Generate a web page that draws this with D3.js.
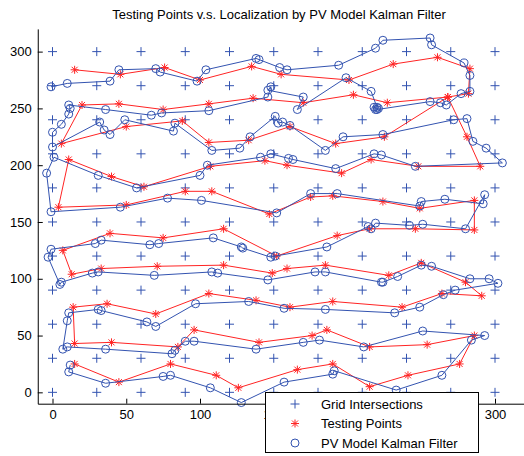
<!DOCTYPE html>
<html>
<head>
<meta charset="utf-8">
<script src="https://cdn.jsdelivr.net/npm/d3@7"></script>
<style>
  body { margin: 0; background: #fff; }
  text { font-family: "Liberation Sans", Arial, sans-serif; }
</style>
</head>
<body>
<svg id="chart" width="524" height="456"></svg>
<script>
// grid of reference positions (every 30 units)
const gridXs = [0, 30, 60, 90, 120, 150, 180, 210, 240, 270, 300];
const gridYs = [0, 30, 60, 90, 120, 150, 180, 210, 240, 270, 300];

const xTicks = [0, 50, 100, 150, 200, 250, 300];
const yTicks = [0, 50, 100, 150, 200, 250, 300];

// testing points, in walking order
const testPoints = [
    [15,25],[45,9],[80,25],[111,15],[126,4],[166,20],[190,25],[215,5],[241,15],[276,25],
    [286,50],[254,42],[215,40],[186,55],[176,50],[140,44],[96,55],[85,40],[40,44],[15,43],
    [14,75],[37,78],[70,69],[106,87],[138,81],[161,75],[190,80],[237,75],[264,87],[291,85],
    [280,97],[250,114],[228,103],[185,112],[159,109],[149,105],[116,112],[71,111],[33,109],[13,104],
    [7,125],[39,140],[75,136],[116,144],[152,120],[193,138],[215,144],[246,144],[286,143],
    [286,169],[249,162],[224,168],[190,173],[175,172],[147,157],[108,177],[90,177],[50,165],[4,163],
    [11,205],[40,190],[62,181],[107,199],[144,204],[159,200],[196,193],[216,205],[248,199],[290,199],
    [281,225],[268,260],
    [225,225],[192,219],[161,234],[133,222],[106,220],[88,239],[50,234],[6,219],
    [20,253],[45,254],[75,249],[106,254],[136,259],[170,255],[204,262],[227,255],[268,260],[282,263],
    [283,285],[261,295],[231,289],[201,275],[155,280],[135,287],[100,275],[76,286],[46,280],[15,284]
];

// PV model Kalman filter estimates
const kalmanPoints = [
    [12,24],[11,18],[36,8],[75,14],[80,15],[107,4],[128,-9],[157,9],[190,16],[191,19],[233,2],[264,15],[284,46],
    [293,50],[251,54],[211,40],[181,46],[170,44],[138,38],[96,45],[90,45],[83,37],[81,34],[36,38],[10,40],[7,38],
    [10,63],[11,70],[31,73],[33,72],[64,62],[70,58],[97,78],[133,80],[157,74],[185,73],[232,70],[249,75],[265,86],[273,90],[302,96],
    [296,100],[283,100],[257,111],[250,112],[234,102],[224,97],[223,97],[185,106],[178,106],[146,99],[112,105],[108,106],[69,103],[31,106],[27,105],[6,97],[5,95],
    [-3,119],[-1,126],[29,131],[33,134],[66,130],[72,131],[109,136],[128,128],[129,127],[148,119],[151,120],[186,128],[214,146],[216,144],[219,149],[242,147],[251,148],[280,144],
    [293,174],[292,166],[266,170],[250,168],[249,164],[193,175],[175,175],[152,158],[101,169],[78,171],[46,163],[-1,159],[-4,193],
    [1,207],[31,191],[57,180],[100,191],[105,200],[141,207],[148,210],[160,206],[163,205],[192,197],[218,210],[223,209],[246,199],[305,202],[294,215],[285,221],[281,241],[272,240],
    [224,227],[197,225],[185,213],[161,235],[156,238],[153,237],[151,243],[134,225],[127,215],[108,213],[83,237],[82,230],[49,240],[39,227],[35,231],[32,238],[0,216],[0,229],[6,236],[11,245],[12,250],
    [11,253],[36,249],[67,244],[74,246],[106,248],[146,260],[148,269],[146,266],[170,260],[166,249],[199,277],[216,265],
    [220,251],[219,249],[221,250],[218,251],[220,249],[256,256],[263,255],[267,253],[277,263],[283,265],[283,279],[279,290],
    [257,306],[256,312],[224,310],[219,303],[194,288],[159,284],[154,286],[140,293],[138,294],[104,284],[98,274],[73,282],[70,285],[45,284],[39,274],[10,272],[-1,269]
];

const legendLabels = ['Grid Intersections', 'Testing Points', 'PV Model Kalman Filter'];

const blue = '#3353b0';
const red = '#ff2424';

const svg = d3.select('#chart');

const x = d3.scaleLinear().domain([-10, 320]).range([37.75, 524.5]);
const y = d3.scaleLinear().domain([-10, 320]).range([403.7, 28.9]);

const plusPath = 'M-4.5,0H4.5M0,-4.5V4.5';
const starPath = 'M-4,0H4M0,-4V4M-3,-3L3,3M-3,3L3,-3';

// grid intersections
const grid = [];
gridYs.forEach(gy => gridXs.forEach(gx => grid.push([gx, gy])));
svg.append('g')
    .selectAll('path')
    .data(grid)
    .join('path')
    .attr('transform', d => `translate(${x(d[0])},${y(d[1])})`)
    .attr('d', plusPath)
    .attr('stroke', blue)
    .attr('stroke-width', 1)
    .attr('fill', 'none');

const line = d3.line().x(d => x(d[0])).y(d => y(d[1]));

// testing points
svg.append('path')
    .attr('d', line(testPoints))
    .attr('fill', 'none')
    .attr('stroke', red)
    .attr('stroke-width', 1);
svg.append('g')
    .selectAll('path')
    .data(testPoints)
    .join('path')
    .attr('transform', d => `translate(${x(d[0])},${y(d[1])})`)
    .attr('d', starPath)
    .attr('stroke', red)
    .attr('stroke-width', 1)
    .attr('fill', 'none');

// kalman filter
svg.append('path')
    .attr('d', line(kalmanPoints))
    .attr('fill', 'none')
    .attr('stroke', blue)
    .attr('stroke-width', 1);
svg.append('g')
    .selectAll('circle')
    .data(kalmanPoints)
    .join('circle')
    .attr('cx', d => x(d[0]))
    .attr('cy', d => y(d[1]))
    .attr('r', 4)
    .attr('stroke', blue)
    .attr('stroke-width', 1)
    .attr('fill', 'none');

// axes (box off, ticks pointing inward)
// labels 200 and 250 sit fully under the legend, so they are left blank
const xAxis = svg.append('g')
    .attr('transform', `translate(0,${y(-10)})`)
    .call(d3.axisBottom(x).tickValues(xTicks)
        .tickFormat(d => (d === 200 || d === 250) ? '' : d)
        .tickSizeInner(-5).tickSizeOuter(0).tickPadding(6));
const yAxis = svg.append('g')
    .attr('transform', `translate(${x(-10)},0)`)
    .call(d3.axisLeft(y).tickValues(yTicks).tickSizeInner(-5).tickSizeOuter(0).tickPadding(6));
[xAxis, yAxis].forEach(a => {
    a.selectAll('path, line').attr('stroke', '#000');
    a.selectAll('text').attr('font-size', 13).attr('fill', '#000')
        .style('font-family', '"Liberation Sans", Arial, sans-serif');
});

svg.append('text')
    .attr('x', 279)
    .attr('y', 19)
    .attr('text-anchor', 'middle')
    .attr('font-size', 13)
    .text('Testing Points v.s. Localization by PV Model Kalman Filter');

// legend
const legend = svg.append('g');
legend.append('rect')
    .attr('x', 265.5).attr('y', 392.5)
    .attr('width', 213).attr('height', 60)
    .attr('fill', '#fff')
    .attr('stroke', '#000');
legendLabels.forEach((label, i) => {
    const ly = 404 + i * 19.5;
    const g = legend.append('g').attr('transform', `translate(295,${ly})`);
    if (i === 0) g.append('path').attr('d', plusPath).attr('stroke', blue).attr('fill', 'none');
    if (i === 1) g.append('path').attr('d', starPath).attr('stroke', red).attr('fill', 'none');
    if (i === 2) g.append('circle').attr('r', 4).attr('stroke', blue).attr('fill', 'none');
    legend.append('text')
        .attr('x', 321)
        .attr('y', ly)
        .attr('dy', '0.35em')
        .attr('font-size', 13)
        .text(label);
});
</script>
</body>
</html>
